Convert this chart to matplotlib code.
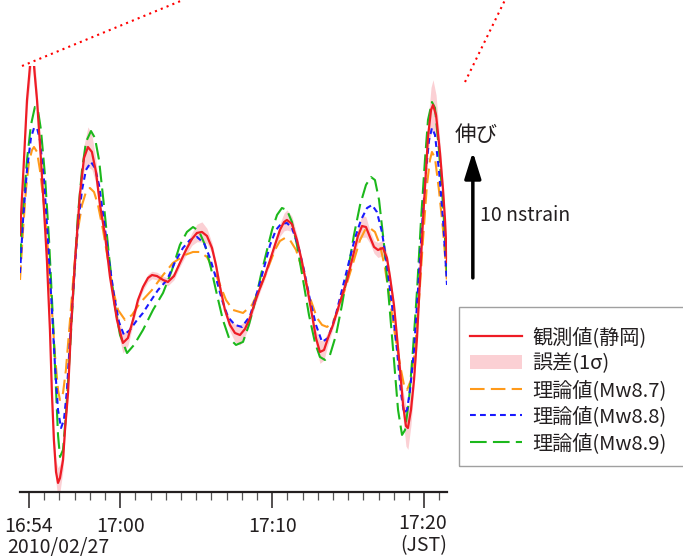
import matplotlib
matplotlib.use("Agg")
import matplotlib.pyplot as plt
from matplotlib.lines import Line2D
from matplotlib.patches import Patch, Rectangle

plt.rcParams['font.family'] = ['Noto Sans CJK JP', 'DejaVu Sans']

# 時刻: 16:54 からの経過分, ひずみ: nstrain (ゼロ点は任意)
obs_t = [-0.59, -0.33, -0.13, 0.02, 0.20, 0.38, 0.53, 0.79, 0.99, 1.18,
         1.38, 1.51, 1.64, 1.78, 1.91, 2.04, 2.24, 2.37, 2.57, 2.76,
         3.03, 3.36, 3.62, 3.88, 4.14, 4.41, 4.67, 5.00, 5.33, 5.79,
         6.18, 6.51, 6.84, 7.17, 7.50, 7.83, 8.09, 8.42, 8.82, 9.14,
         9.54, 9.93, 10.33, 10.72, 11.05, 11.38, 11.71, 12.04, 12.30, 12.57,
         12.89, 13.22, 13.55, 13.88, 14.21, 14.54, 14.87, 15.20, 15.53, 15.86,
         16.18, 16.51, 16.78, 16.97, 17.30, 17.63, 17.96, 18.29, 18.62, 18.88,
         19.14, 19.41, 19.67, 20.00, 20.46, 20.92, 21.38, 21.64, 21.91, 22.17,
         22.43, 22.70, 22.96, 23.29, 23.55, 23.75, 24.01, 24.21, 24.41, 24.61,
         24.80, 24.93, 25.13, 25.33, 25.53, 25.72, 25.92, 26.12, 26.25, 26.45,
         26.58, 26.78, 27.04, 27.24, 27.37, 27.50]
obs_v = [5.16, 11.11, 15.87, 17.9, 20.5, 17.9, 15.87, 11.11, 7.14, 3.17,
         -2.38, -7.38, -11.11, -13.65, -14.52, -14.13, -12.70, -10.32, -7.38, -2.38,
         3.17, 8.49, 11.27, 12.14, 11.75, 10.16, 7.54, 5.16, 1.83, -1.59,
         -3.41, -3.02, -1.59, 0.00, 1.03, 1.75, 1.98, 1.90, 1.59, 1.43,
         1.90, 2.94, 3.97, 4.84, 5.32, 5.40, 5.08, 4.13, 2.78, 1.03,
         -0.79, -1.98, -2.62, -2.78, -2.30, -1.43, -0.16, 0.95, 1.98, 3.17,
         4.37, 5.56, 6.19, 6.35, 6.03, 4.76, 3.02, 1.03, -1.19, -3.02,
         -4.13, -3.97, -3.02, -1.98, -0.16, 1.59, 3.81, 5.08, 5.87, 5.79,
         5.00, 4.21, 3.97, 4.13, 3.33, 1.83, -0.40, -2.94, -5.56, -8.33,
         -10.00, -10.16, -8.73, -6.35, -2.94, 1.59, 6.35, 10.32, 12.94, 15.08,
         15.48, 14.68, 11.67, 8.73, 6.35, 3.02]
obs_err = [0.3, 0.4, 0.8, 1.2, 1.3, 1.2, 0.8, 0.4, 0.3, 0.3,
           0.3, 0.4, 0.6, 0.9, 1.2, 1.1, 0.8, 0.5, 0.3, 0.3,
           0.3, 0.5, 1.0, 1.6, 1.4, 0.9, 0.5, 0.4, 0.4, 0.6,
           0.8, 0.6, 0.4, 0.3, 0.3, 0.3, 0.3, 0.3, 0.3, 0.3,
           0.3, 0.3, 0.4, 0.5, 0.7, 0.8, 0.6, 0.4, 0.3, 0.3,
           0.3, 0.5, 0.7, 0.8, 0.6, 0.4, 0.3, 0.3, 0.3, 0.3,
           0.4, 0.5, 0.7, 0.8, 0.6, 0.4, 0.3, 0.3, 0.4, 0.6,
           0.9, 0.8, 0.5, 0.3, 0.3, 0.3, 0.4, 0.6, 0.9, 0.8,
           0.5, 0.5, 0.6, 0.6, 0.4, 0.3, 0.3, 0.4, 0.7, 1.1,
           1.6, 1.7, 1.2, 0.6, 0.4, 0.4, 0.5, 0.8, 1.2, 1.8,
           2.0, 1.6, 0.8, 0.5, 0.4, 0.4]

mw87_t = [-0.59, -0.39, -0.20, 0.00, 0.20, 0.33, 0.53, 0.72, 0.99, 1.25,
          1.51, 1.71, 1.91, 2.04, 2.24, 2.43, 2.70, 2.96, 3.22, 3.49,
          3.75, 4.01, 4.28, 4.54, 4.87, 5.20, 5.53, 5.86, 6.32, 6.78,
          7.30, 8.09, 8.82, 9.47, 10.26, 10.79, 11.25, 11.71, 12.17, 12.57,
          12.96, 13.42, 14.08, 14.67, 15.20, 15.72, 16.18, 16.51, 16.84, 17.17,
          17.57, 18.03, 18.49, 18.95, 19.28, 19.61, 20.00, 20.46, 20.92, 21.38,
          21.78, 22.11, 22.43, 22.76, 23.09, 23.42, 23.75, 24.08, 24.41, 24.67,
          24.87, 25.13, 25.39, 25.66, 25.92, 26.18, 26.38, 26.51, 26.71, 26.97,
          27.24, 27.50]
mw87_v = [1.59, 5.56, 8.73, 10.95, 11.90, 12.14, 11.75, 10.32, 7.54, 3.97,
          -0.79, -4.37, -7.14, -7.94, -7.38, -5.56, -1.59, 2.38, 5.56, 7.54,
          8.57, 8.89, 8.57, 7.54, 5.56, 3.17, 0.79, -0.79, -1.59, -1.19,
          -0.24, 0.79, 1.98, 2.94, 3.57, 3.81, 3.81, 3.41, 2.38, 1.19,
          0.00, -0.79, -1.03, -0.40, 0.95, 2.54, 3.97, 4.68, 4.92, 4.76,
          3.97, 2.22, 0.16, -1.43, -1.98, -2.14, -1.75, -0.40, 1.35, 3.17,
          4.76, 5.56, 5.71, 5.40, 4.37, 2.54, 0.00, -2.78, -5.16, -6.75,
          -7.14, -6.35, -3.97, 0.00, 4.76, 9.13, 11.11, 11.75, 11.27, 8.73,
          5.56, 1.43]

mw88_t = [-0.59, -0.39, -0.13, 0.13, 0.33, 0.53, 0.72, 0.99, 1.25, 1.51,
          1.71, 1.91, 2.11, 2.30, 2.50, 2.70, 2.96, 3.22, 3.49, 3.75,
          4.08, 4.34, 4.61, 4.93, 5.26, 5.59, 5.92, 6.25, 6.64, 7.11,
          7.50, 7.96, 8.49, 9.08, 9.61, 10.13, 10.59, 11.05, 11.51, 11.91,
          12.30, 12.70, 13.09, 13.55, 14.01, 14.54, 15.00, 15.46, 15.86, 16.25,
          16.58, 16.97, 17.30, 17.70, 18.09, 18.49, 18.88, 19.28, 19.67, 20.13,
          20.59, 21.05, 21.45, 21.84, 22.24, 22.57, 22.89, 23.22, 23.55, 23.88,
          24.21, 24.47, 24.67, 24.87, 25.07, 25.33, 25.59, 25.86, 26.12, 26.32,
          26.51, 26.71, 26.97, 27.24, 27.50]
mw88_v = [2.14, 6.35, 10.32, 12.86, 13.65, 13.65, 12.70, 9.52, 4.76, -0.79,
          -5.16, -8.73, -10.16, -9.52, -7.14, -3.17, 1.59, 5.95, 8.73, 10.32,
          10.95, 10.48, 9.13, 6.35, 3.17, 0.40, -1.75, -2.78, -2.38, -1.59,
          -1.03, -0.16, 0.79, 1.59, 3.02, 4.13, 4.76, 5.00, 4.52, 3.33,
          1.75, 0.00, -1.35, -1.98, -2.14, -1.27, 0.56, 2.54, 4.37, 5.56,
          6.03, 6.11, 5.71, 4.37, 2.38, 0.00, -1.98, -3.33, -3.02, -1.43,
          0.79, 3.02, 4.92, 6.35, 7.30, 7.54, 6.98, 5.40, 2.78, -0.40,
          -3.97, -7.38, -8.97, -8.73, -7.14, -3.97, 0.79, 5.95, 10.32, 12.70,
          13.65, 13.10, 10.32, 6.35, 1.19]

mw89_t = [-0.59, -0.39, -0.13, 0.13, 0.39, 0.59, 0.79, 1.05, 1.32, 1.58,
          1.78, 1.91, 2.04, 2.24, 2.43, 2.70, 2.96, 3.22, 3.49, 3.75,
          4.08, 4.34, 4.61, 4.93, 5.26, 5.59, 5.99, 6.45, 6.91, 7.50,
          8.16, 8.82, 9.41, 9.93, 10.39, 10.79, 11.18, 11.58, 11.97, 12.37,
          12.76, 13.16, 13.62, 14.08, 14.47, 14.87, 15.26, 15.66, 15.99, 16.32,
          16.64, 16.97, 17.30, 17.63, 18.03, 18.42, 18.82, 19.14, 19.47, 19.80,
          20.20, 20.59, 20.99, 21.38, 21.78, 22.17, 22.50, 22.76, 23.03, 23.36,
          23.68, 24.01, 24.28, 24.54, 24.74, 25.00, 25.26, 25.53, 25.79, 26.05,
          26.25, 26.51, 26.71, 26.97, 27.24, 27.50]
mw89_v = [3.17, 7.14, 11.11, 13.89, 15.32, 15.08, 13.49, 9.92, 4.76, -1.59,
          -7.14, -10.71, -12.46, -11.90, -9.13, -3.97, 1.59, 6.75, 10.32, 12.54,
          13.41, 12.86, 11.11, 7.54, 3.57, 0.00, -2.78, -4.21, -3.57, -2.38,
          -0.79, 0.56, 2.38, 4.37, 5.40, 5.79, 5.48, 4.37, 2.54, 0.40,
          -1.59, -3.02, -3.57, -3.33, -1.98, -0.16, 1.98, 3.97, 5.56, 6.75,
          7.30, 7.14, 6.19, 4.37, 1.59, -1.19, -3.41, -4.52, -4.76, -4.37,
          -2.78, -0.40, 2.38, 5.16, 7.54, 9.13, 9.76, 9.52, 7.94, 4.37,
          0.00, -4.76, -8.73, -10.71, -10.32, -7.94, -3.97, 0.79, 6.35, 11.11,
          14.29, 15.71, 15.24, 11.90, 7.54, 2.14]

tick_pos = [0, 6, 16, 26]
tick_labels = ['16:54', '17:00', '17:10', '']
last_label = '17:20\n(JST)'
date_label = '2010/02/27'
labels = ['観測値(静岡)', '誤差(1σ)', '理論値(Mw8.7)', '理論値(Mw8.8)', '理論値(Mw8.9)']

c_obs = '#ee1c25'
c_err = '#fbd0d4'
c_87 = '#ff9a1a'
c_88 = '#1a1aff'
c_89 = '#1cb81c'
txt = '#231f20'

fig = plt.figure(figsize=(6.83, 5.6), dpi=100)
ax = fig.add_axes([20 / 683, 1 - 492 / 560, 427 / 683, 426 / 560])

lo = [v - e for v, e in zip(obs_v, obs_err)]
hi = [v + e for v, e in zip(obs_v, obs_err)]
ax.fill_between(obs_t, lo, hi, color=c_err, lw=0, zorder=1)
ax.plot(mw87_t, mw87_v, color=c_87, lw=1.5, ls=(0, (7, 3)), zorder=2)
ax.plot(mw88_t, mw88_v, color=c_88, lw=1.5, ls=(0, (2.8, 2)), zorder=3)
ax.plot(mw89_t, mw89_v, color=c_89, lw=1.5, ls=(0, (8, 3)), zorder=2)
ax.plot(obs_t, obs_v, color=c_obs, lw=1.6, zorder=4)

ax.set_xlim(-0.59, 27.5)
ax.set_ylim(-15.24, 18.57)
for s in ['left', 'right', 'top']:
    ax.spines[s].set_visible(False)
ax.spines['bottom'].set_linewidth(1.6)
ax.spines['bottom'].set_color(txt)
ax.set_yticks([])
ax.set_xticks(tick_pos)
ax.set_xticklabels(tick_labels)
ax.set_xticks([m for m in range(1, 28) if m not in tick_pos], minor=True)
ax.tick_params(axis='x', which='major', length=11.5, width=1.1, color=txt,
               labelsize=14, labelcolor=txt, pad=6)
ax.tick_params(axis='x', which='minor', length=5.5, width=0.9, color='#555555')
ax.patch.set_alpha(0)

fig.text(7 / 683, 1 - 553 / 560, date_label, ha='left', va='baseline',
         fontsize=14, color=txt)
fig.text(447 / 683, 1 - 551 / 560, last_label, ha='right', va='baseline',
         multialignment='right', linespacing=1.05, fontsize=14, color=txt)

# スケール矢印
ax.annotate('', xy=(29.2, 11.75), xytext=(29.2, 1.75),
            arrowprops=dict(arrowstyle='-|>,head_length=0.8,head_width=0.25',
                            lw=2.5, color='black', mutation_scale=20,
                            shrinkA=0, shrinkB=0),
            annotation_clip=False)
ax.text(29.45, 13.1, '伸び', ha='center', va='center', fontsize=15.5, color=txt)
ax.text(29.67, 6.67, '10 nstrain', ha='left', va='center', fontsize=14,
        color=txt)

# 凡例
handles = [Line2D([], [], color=c_obs, lw=1.6),
           Patch(facecolor=c_err, edgecolor='none'),
           Line2D([], [], color=c_87, lw=1.5, ls=(0, (7, 3))),
           Line2D([], [], color=c_88, lw=1.5, ls=(0, (2.8, 2))),
           Line2D([], [], color=c_89, lw=1.5, ls=(0, (8, 3)))]
leg = fig.legend(handles, labels, loc='upper left',
                 bbox_to_anchor=(470 / 683, 1 - 327 / 560), frameon=False,
                 fontsize=14.5, handlelength=2.6, handletextpad=0.5,
                 labelspacing=0.27, borderpad=0, borderaxespad=0)
for t in leg.get_texts():
    t.set_color(txt)
fig.add_artist(Rectangle((459 / 683, 1 - 466 / 560), 0.5, 159 / 560,
                         transform=fig.transFigure, fill=False,
                         ec='#a0a0a0', lw=1))

# 拡大元への点線
fig.add_artist(Line2D([22 / 683, 183 / 683], [1 - 66 / 560, 1.0],
                      transform=fig.transFigure, color='red', lw=1.5,
                      ls=(0, (1, 2))))
fig.add_artist(Line2D([465 / 683, 505 / 683], [1 - 82 / 560, 1.0],
                      transform=fig.transFigure, color='red', lw=1.5,
                      ls=(0, (1, 2))))

fig.savefig('out.png', dpi=100)
